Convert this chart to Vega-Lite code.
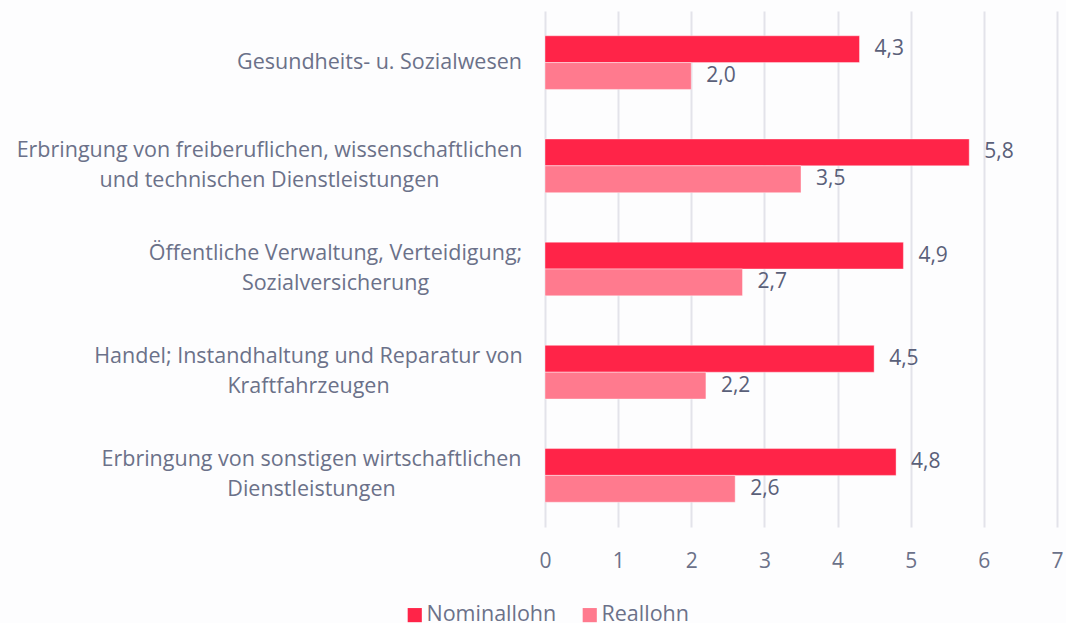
{
  "$schema": "https://vega.github.io/schema/vega-lite/v6.json",
  "width": 512,
  "height": 516,
  "autosize": "none",
  "padding": {"left": 545, "top": 11, "right": 9, "bottom": 96},
  "background": "#fdfdfe",
  "config": {
    "font": "Open Sans",
    "view": {"stroke": null},
    "locale": {"number": {"decimal": ",", "thousands": ".", "grouping": [3], "currency": ["", " €"]}}
  },
  "data": {
    "values": [
      {"cat": "Gesundheits- u. Sozialwesen", "serie": "Nominallohn", "wert": 4.3},
      {"cat": "Gesundheits- u. Sozialwesen", "serie": "Reallohn", "wert": 2.0},
      {"cat": "Erbringung von freiberuflichen, wissenschaftlichen|und technischen Dienstleistungen", "serie": "Nominallohn", "wert": 5.8},
      {"cat": "Erbringung von freiberuflichen, wissenschaftlichen|und technischen Dienstleistungen", "serie": "Reallohn", "wert": 3.5},
      {"cat": "Öffentliche Verwaltung, Verteidigung;|Sozialversicherung", "serie": "Nominallohn", "wert": 4.9},
      {"cat": "Öffentliche Verwaltung, Verteidigung;|Sozialversicherung", "serie": "Reallohn", "wert": 2.7},
      {"cat": "Handel; Instandhaltung und Reparatur von|Kraftfahrzeugen", "serie": "Nominallohn", "wert": 4.5},
      {"cat": "Handel; Instandhaltung und Reparatur von|Kraftfahrzeugen", "serie": "Reallohn", "wert": 2.2},
      {"cat": "Erbringung von sonstigen wirtschaftlichen|Dienstleistungen", "serie": "Nominallohn", "wert": 4.8},
      {"cat": "Erbringung von sonstigen wirtschaftlichen|Dienstleistungen", "serie": "Reallohn", "wert": 2.6}
    ]
  },
  "encoding": {
    "y": {
      "field": "cat",
      "type": "nominal",
      "sort": [
        "Gesundheits- u. Sozialwesen",
        "Erbringung von freiberuflichen, wissenschaftlichen|und technischen Dienstleistungen",
        "Öffentliche Verwaltung, Verteidigung;|Sozialversicherung",
        "Handel; Instandhaltung und Reparatur von|Kraftfahrzeugen",
        "Erbringung von sonstigen wirtschaftlichen|Dienstleistungen"
      ],
      "scale": {"paddingInner": 0.48, "paddingOuter": 0.24},
      "axis": {
        "title": null,
        "domain": false,
        "ticks": false,
        "grid": false,
        "labelExpr": "split(datum.label, '|')",
        "labelFontSize": 21.5,
        "labelColor": "#6b7189",
        "labelAlign": "center",
        "labelPadding": {"expr": "24 + (indexof(datum.value, 'Gesund') == 0 ? 142 : indexof(datum.value, 'Erbringung von frei') == 0 ? 252 : indexof(datum.value, 'Öffentliche') == 0 ? 186 : indexof(datum.value, 'Handel') == 0 ? 213 : 210)"},
        "labelLineHeight": 30,
        "labelLimit": 600,
        "labelOffset": {"condition": {"test": "indexof(datum.value, '|') >= 0", "value": -15}, "value": 0}
      }
    },
    "yOffset": {"field": "serie", "type": "nominal", "sort": ["Nominallohn", "Reallohn"]},
    "x": {
      "field": "wert",
      "type": "quantitative",
      "scale": {"domain": [0, 7], "nice": false},
      "axis": {
        "title": null,
        "domain": false,
        "ticks": false,
        "values": [0, 1, 2, 3, 4, 5, 6, 7],
        "format": "d",
        "labelFlush": false,
        "labelOverlap": false,
        "labelFontSize": 21,
        "labelColor": "#6b7189",
        "labelPadding": 23,
        "gridColor": "#e3e3ea",
        "gridWidth": 2
      }
    }
  },
  "layer": [
    {
      "mark": {"type": "bar", "stroke": "#ffffff", "strokeOpacity": 0.4, "strokeWidth": 1},
      "encoding": {
        "color": {
          "field": "serie",
          "type": "nominal",
          "sort": ["Nominallohn", "Reallohn"],
          "scale": {"domain": ["Nominallohn", "Reallohn"], "range": ["#ff2448", "#ff7a8e"]},
          "legend": {
            "title": null,
            "orient": "none",
            "legendX": -141,
            "legendY": 593,
            "direction": "horizontal",
            "symbolType": "square",
            "symbolSize": 200,
            "symbolStrokeWidth": 0,
            "labelFontSize": 21.5,
            "labelColor": "#6b7189",
            "labelOffset": 1,
            "columnPadding": 22
          }
        }
      }
    },
    {
      "mark": {"type": "text", "align": "left", "baseline": "middle", "dx": 15, "fontSize": 21, "color": "#5a6079"},
      "encoding": {
        "text": {"field": "wert", "type": "quantitative", "format": ".1f"}
      }
    }
  ]
}
